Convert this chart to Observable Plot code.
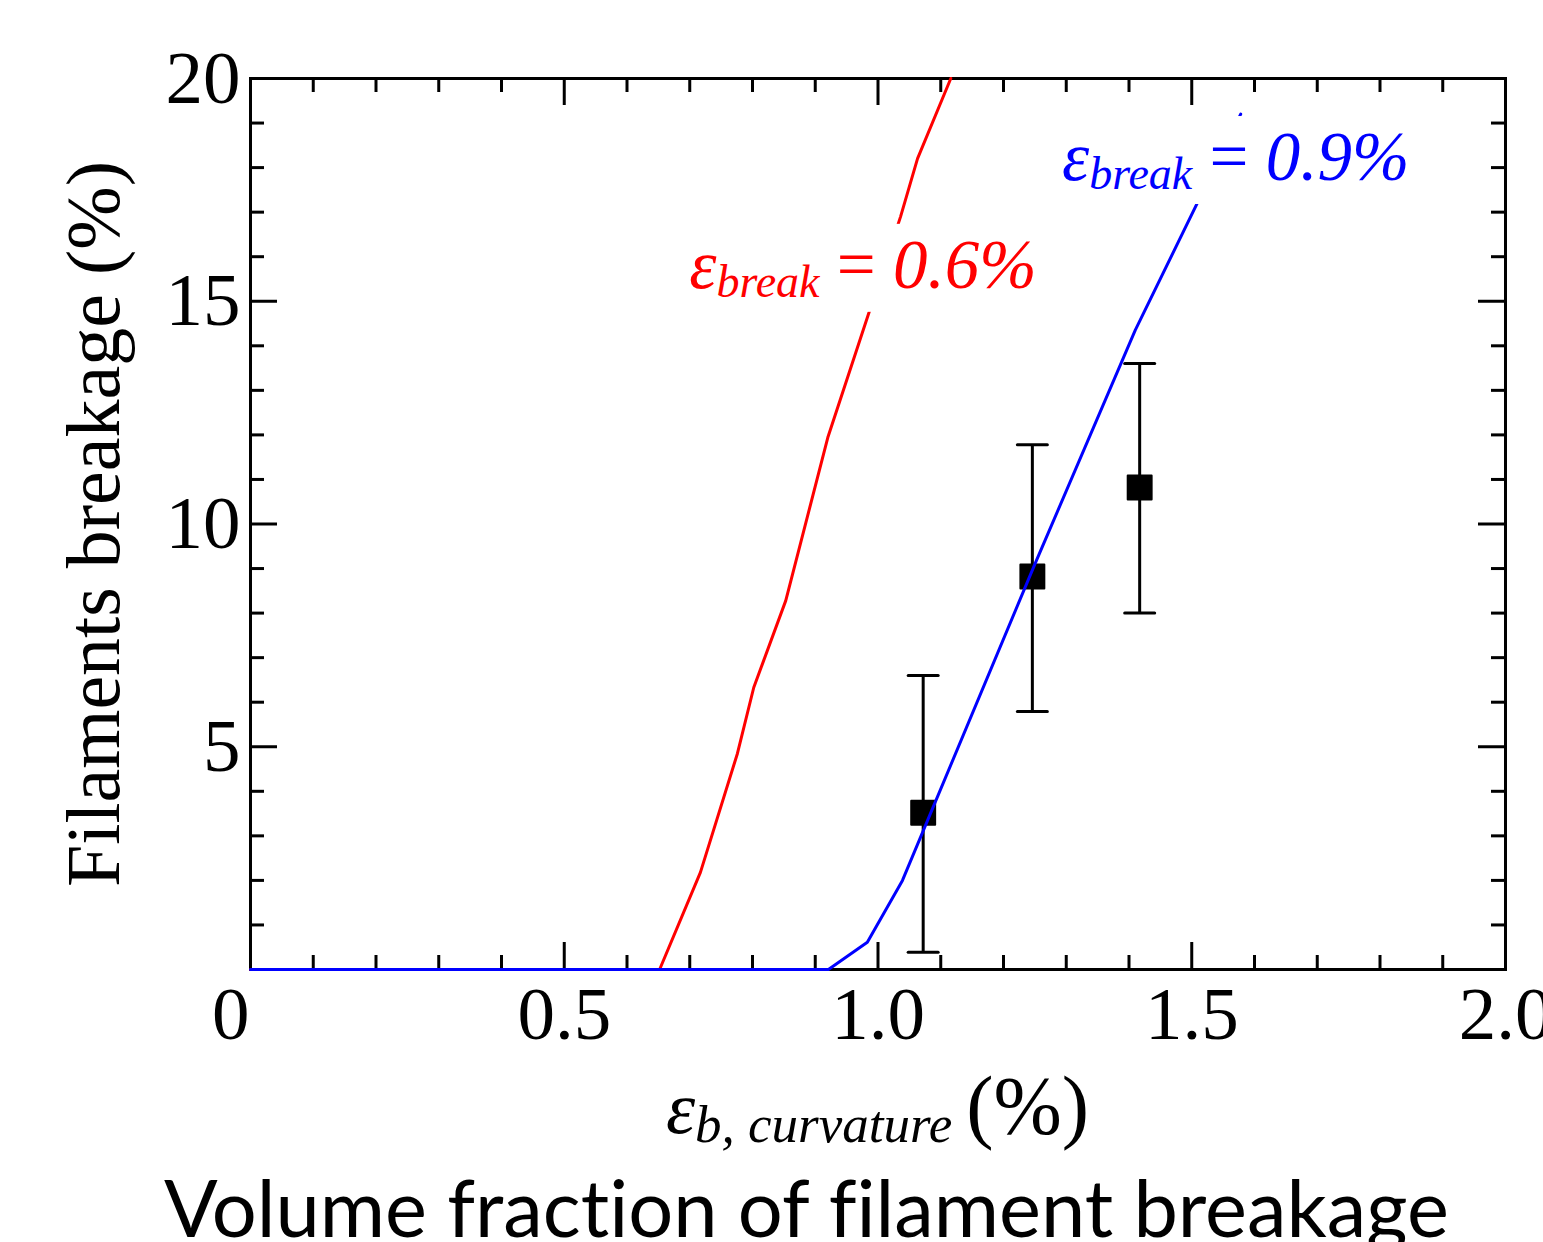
<!DOCTYPE html>
<html><head><meta charset="utf-8">
<script src="https://cdn.jsdelivr.net/npm/d3@7"></script>
<script src="https://cdn.jsdelivr.net/npm/@observablehq/plot@0.6"></script>
<style>
html,body{margin:0;padding:0;background:#fff;overflow:hidden;}
#caption{font-family:Lato,"Open Sans",sans-serif;white-space:nowrap;line-height:1;padding-left:164px;color:#000;font-size:80px;font-variant-ligatures:none;font-feature-settings:"liga" 0,"clig" 0;}
#caption .b{display:inline-block;width:0;height:0;}
</style></head><body>
<div id="chart"></div>
<div id="caption"><span class="t">Volume fraction of filament breakage</span><span class="b"></span></div>
<script>
// ---- data ----
const redX  = [0, 0.652, 0.717, 0.776, 0.802, 0.853, 0.920, 1.036, 1.063, 1.116];
const redY  = [0, 0,     2.18,  4.85,  6.33,  8.28,  11.94, 16.9,  18.2,  20.0];
const blueX = [0, 0.921, 0.983, 1.039, 1.25, 1.41,  1.578];
const blueY = [0, 0,     0.61,  2.0,   9.1,  14.35, 19.2];
const expX  = [1.072, 1.246, 1.417];
const expY  = [3.52,  8.82,  10.82];
const expLo = [0.39,  5.79,  8.00];
const expHi = [6.60,  11.78, 13.60];
const xTicks = [0, 0.5, 1.0, 1.5, 2.0];
const xTickLabels = ["0", "0.5", "1.0", "1.5", "2.0"];
const xMinor = [0.1,0.2,0.3,0.4,0.6,0.7,0.8,0.9,1.1,1.2,1.3,1.4,1.6,1.7,1.8,1.9];
const xMajorInner = [0.5, 1.0, 1.5];
const yTicks = [5, 10, 15, 20];
const yTickLabels = ["5", "10", "15", "20"];
const yMinor = [1,2,3,4,6,7,8,9,11,12,13,14,16,17,18,19];
const yMajorInner = [5, 10, 15];
const labelX = [0.70, 1.294];
const labelY = [15.29, 17.71];
const labelValue = ["0.6%", "0.9%"];
const yTitle = "Filaments breakage (%)";

// ---- layout ----
const W = 1543, H = 1165, mL = 250, mR = 38, mT = 78, mB = 196;
const frameW = W - mL - mR, frameH = H - mT - mB;
const minorLen = 14, majorLen = 27;
const serif = "Liberation Serif, Times New Roman, serif";
const NS = "http://www.w3.org/2000/svg";

const red = redX.map((x, i) => ({x, y: redY[i]}));
const blue = blueX.map((x, i) => ({x, y: blueY[i]}));
const exp = expX.map((x, i) => ({x, y: expY[i], lo: expLo[i], hi: expHi[i]}));

const capSymbol = {draw(ctx, size) { const r = Math.sqrt(size / Math.PI); ctx.moveTo(-r, 0); ctx.lineTo(r, 0); }};

function el(tag, attrs, text) {
  const e = document.createElementNS(NS, tag);
  for (const k in attrs) e.setAttribute(k, attrs[k]);
  if (text != null) e.textContent = text;
  return e;
}

function eqLabel(i, color) {
  return (index, scales) => {
    const px = scales.x(labelX[i]), py = scales.y(labelY[i]);
    const g = el("g", {});
    g.appendChild(el("rect", {x: px - 6, y: py - 64, width: 362, height: 88, fill: "white"}));
    const t = el("text", {x: px, y: py, fill: color, "text-anchor": "start", "font-family": serif, "font-size": 69, style: "white-space:pre"});
    t.appendChild(el("tspan", {"font-style": "italic"}, "\u03B5"));
    t.appendChild(el("tspan", {"font-style": "italic", "font-size": 46, dy: 9}, "break"));
    t.appendChild(el("tspan", {dy: -9}, " = "));
    t.appendChild(el("tspan", {"font-style": "italic"}, labelValue[i]));
    g.appendChild(t);
    return g;
  };
}

function xTitle(index, scales) {
  const cx = (scales.x(0) + scales.x(2)) / 2;
  const by = scales.y(0) + 164;
  const t = el("text", {x: cx, y: by, "text-anchor": "middle", fill: "black", "font-family": serif, "font-size": 74, style: "white-space:pre"});
  t.appendChild(el("tspan", {"font-style": "italic"}, "\u03B5"));
  t.appendChild(el("tspan", {"font-style": "italic", "font-size": 53, dy: 9}, "b, curvature"));
  t.appendChild(el("tspan", {"font-size": 82, dy: -9, dx: 14}, "(%)"));
  return t;
}

const tickStyle = {stroke: "black", strokeWidth: 3};

const chart = Plot.plot({
  width: W, height: H,
  marginLeft: mL, marginRight: mR, marginTop: mT, marginBottom: mB,
  style: {background: "white", fontFamily: serif, overflow: "visible"},
  x: {domain: [0, 2], axis: null},
  y: {domain: [0, 20], axis: null},
  marks: [
    Plot.frame({stroke: "black", strokeWidth: 3}),
    // bottom / top ticks
    Plot.tickX(xMinor, {x: d => d, insetTop: frameH - minorLen, ...tickStyle}),
    Plot.tickX(xMinor, {x: d => d, insetBottom: frameH - minorLen, ...tickStyle}),
    Plot.tickX(xMajorInner, {x: d => d, insetTop: frameH - majorLen, ...tickStyle}),
    Plot.tickX(xMajorInner, {x: d => d, insetBottom: frameH - majorLen, ...tickStyle}),
    // left / right ticks
    Plot.tickY(yMinor, {y: d => d, insetRight: frameW - minorLen, ...tickStyle}),
    Plot.tickY(yMinor, {y: d => d, insetLeft: frameW - minorLen, ...tickStyle}),
    Plot.tickY(yMajorInner, {y: d => d, insetRight: frameW - majorLen, ...tickStyle}),
    Plot.tickY(yMajorInner, {y: d => d, insetLeft: frameW - majorLen, ...tickStyle}),
    // tick labels
    Plot.text(xTicks, {filter: d => d !== 0, x: d => d, text: d => xTickLabels[xTicks.indexOf(d)], frameAnchor: "bottom", lineAnchor: "top", textAnchor: "middle", dy: 16, fontSize: 75, fill: "black"}),
    Plot.text(xTicks, {filter: d => d === 0, x: d => d, text: d => xTickLabels[xTicks.indexOf(d)], frameAnchor: "bottom", lineAnchor: "top", textAnchor: "end", dy: 16, dx: -1, fontSize: 75, fill: "black"}),
    Plot.text(yTicks, {y: d => d, text: d => yTickLabels[yTicks.indexOf(d)], frameAnchor: "left", textAnchor: "end", dx: -10, fontSize: 75, fill: "black"}),
    Plot.text([yTitle], {text: d => d, frameAnchor: "left", textAnchor: "middle", lineAnchor: "middle", rotate: -90, dx: -156, fontSize: 76, fill: "black"}),
    xTitle,
    // experimental points with error bars
    Plot.ruleX(exp, {x: "x", y1: "lo", y2: "hi", stroke: "black", strokeWidth: 3}),
    Plot.dot(exp, {x: "x", y: "hi", symbol: capSymbol, r: 15, stroke: "black", strokeWidth: 3, fill: "none", strokeLinecap: "round"}),
    Plot.dot(exp, {x: "x", y: "lo", symbol: capSymbol, r: 15, stroke: "black", strokeWidth: 3, fill: "none", strokeLinecap: "round"}),
    Plot.dot(exp, {x: "x", y: "y", symbol: "square", r: 13.5, fill: "black", stroke: "black", strokeWidth: 2, strokeLinejoin: "round"}),
    // model curves
    Plot.line(red, {x: "x", y: "y", stroke: "#ff0000", strokeWidth: 3}),
    Plot.line(blue, {x: "x", y: "y", stroke: "#0000ff", strokeWidth: 3}),
    eqLabel(0, "#ff0000"),
    eqLabel(1, "#0000ff")
  ]
});
document.getElementById("chart").appendChild(chart);

function fitCaption() {
  const cap = document.getElementById("caption");
  cap.style.marginTop = "0px";
  cap.style.fontSize = "80px";
  const w = cap.querySelector(".t").getBoundingClientRect().width;
  const f = 80 * 1285 / w;
  cap.style.fontSize = f + "px";
  const base = cap.querySelector(".b").getBoundingClientRect().top;
  cap.style.marginTop = (1237 - base) + "px";
}
fitCaption();
if (document.fonts && document.fonts.ready) document.fonts.ready.then(fitCaption);
</script>
</body></html>
